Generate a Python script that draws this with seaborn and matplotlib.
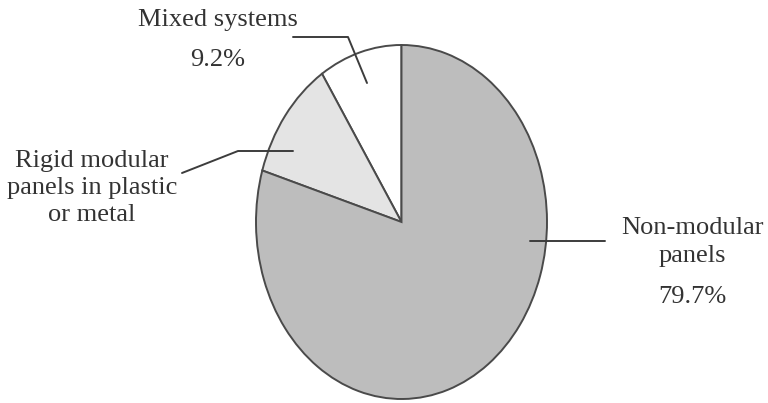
import seaborn as sns
from matplotlib import pyplot as plt

# shares of the market, counter-clockwise from 12 o'clock
categories = ["Mixed systems", "Rigid modular panels in plastic or metal", "Non-modular panels"]
shares = [9.2, 11.1, 79.7]
pct_labels = ["9.2%", None, "79.7%"]

sns.set_style("white")
plt.rcParams['font.family'] = ['Liberation Serif', 'DejaVu Serif']

W, H = 768, 403
CX, CY, RX, RY = 401.5, 222.0, 145.5, 177.0

def px(x, y):
  # picture pixel -> data coords of the unit pie
  return ((x - CX) / RX, (CY - y) / RY)

fig = plt.figure(figsize=(W / 100, H / 100), dpi=100)
ax = fig.add_axes([0, 0, 1, 1])

ax.pie(shares, startangle=90, counterclock=True,
       colors=["white", "#e4e4e4", "#bdbdbd"],
       wedgeprops={"edgecolor": "#4a4a4a", "linewidth": 1.4})
ax.set_aspect("auto")
ax.set_xlim(px(0, 0)[0], px(W, 0)[0])
ax.set_ylim(px(0, H)[1], px(0, 0)[1])
ax.axis("off")

txt = dict(color="#333333", fontsize=19, ha="center", va="center",
           linespacing=1.3)
line = dict(color="#3c3c3c", lw=1.4)

# mixed systems
ax.text(*px(218, 20), "Mixed systems", **txt)
ax.text(*px(218, 60), pct_labels[0], **txt)
pts = [px(293, 37), px(348, 37), px(367, 83)]
ax.plot([p[0] for p in pts], [p[1] for p in pts], **line)

# rigid modular
ax.text(*px(92, 188), "Rigid modular\npanels in plastic\nor metal", **txt)
pts = [px(182, 173), px(238, 151), px(293, 151)]
ax.plot([p[0] for p in pts], [p[1] for p in pts], **line)

# non-modular
ax.text(*px(692, 242), "Non-modular\npanels", **txt)
ax.text(*px(692, 297), pct_labels[2], **txt)
pts = [px(530, 241), px(605, 241)]
ax.plot([p[0] for p in pts], [p[1] for p in pts], **line)

plt.savefig("out.png", dpi=100, facecolor="white")
